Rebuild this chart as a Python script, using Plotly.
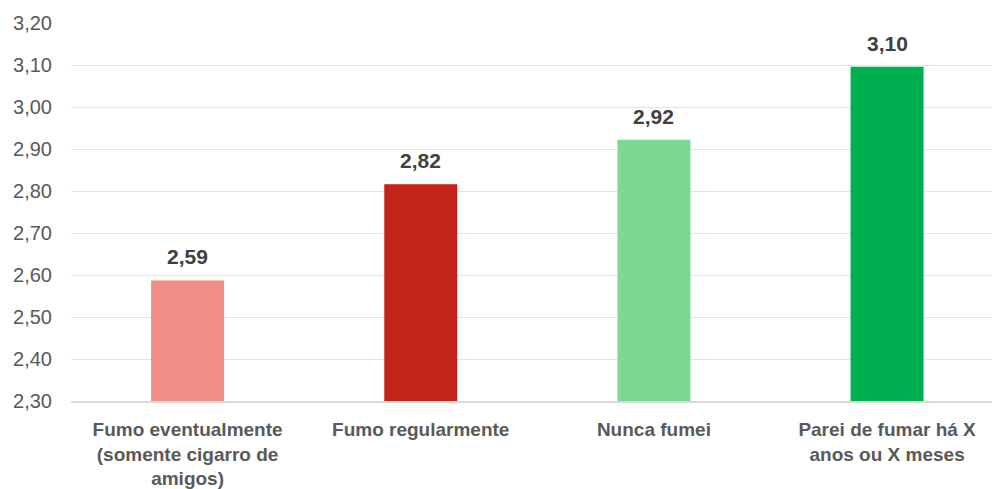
import plotly.graph_objects as go

categories = ["Fumo eventualmente<br>(somente cigarro de<br>amigos)", "Fumo regularmente", "Nunca fumei", "Parei de fumar há X<br>anos ou X meses"]
values = [2.587, 2.816, 2.922, 3.096]
colors = ["#F28E86", "#C42318", "#7DD892", "#00B050"]
y_ticks = [2.30, 2.40, 2.50, 2.60, 2.70, 2.80, 2.90, 3.00, 3.10, 3.20]
baseline = 2.30

x_idx = list(range(len(categories)))

fig = go.Figure()
fig.add_trace(go.Bar(
    x=x_idx, y=[v - baseline for v in values], base=baseline,
    marker=dict(color=colors, line=dict(width=0)),
    width=0.313,
))

for i, v in zip(x_idx, values):
    fig.add_annotation(x=i, y=v, xref="x", yref="y", text="<b>%s</b>" % f"{v:.2f}".replace(".", ","),
                       showarrow=False, yanchor="bottom", yshift=10,
                       font=dict(family="Liberation Sans, Arial", size=21, color="#404040"))

fig.update_layout(
    width=992, height=489,
    margin=dict(l=71, r=0, t=23, b=83),
    paper_bgcolor="white", plot_bgcolor="white",
    separators=",.",
    showlegend=False,
    font=dict(family="Liberation Sans, Arial", color="#595959"),
)
fig.update_yaxes(
    range=[2.30, 3.20], tickvals=y_ticks, tickformat=".2f",
    showgrid=True, gridcolor="#E4E4E4", gridwidth=1,
    zeroline=False, showline=False,
    ticks="", ticklabelstandoff=18,
    tickfont=dict(size=20, color="#595959"),
)
fig.update_xaxes(
    range=[-0.5, 3.45], tickvals=x_idx, ticktext=["<b>%s</b>" % c for c in categories],
    showgrid=False, zeroline=False,
    showline=True, linecolor="#D9D9D9", linewidth=2,
    ticks="", ticklabelstandoff=10,
    tickfont=dict(size=19, color="#595959"),
)
fig.write_html("out.html")
